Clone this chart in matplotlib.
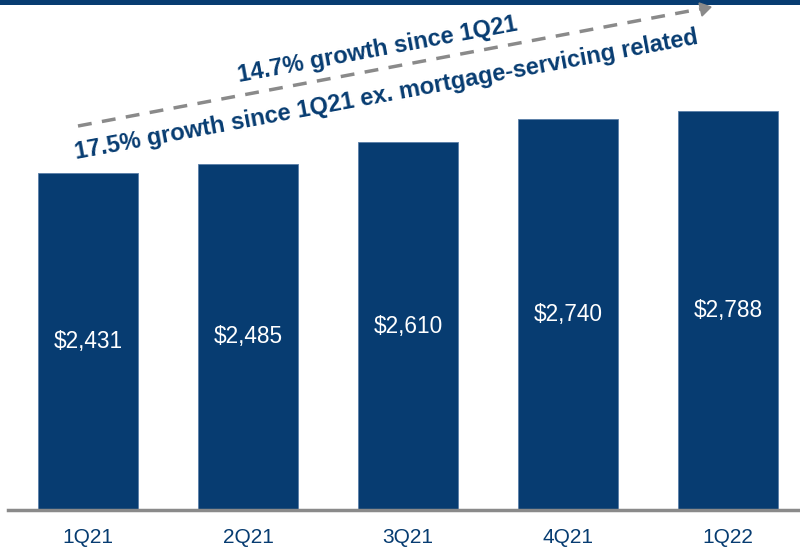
import matplotlib.pyplot as plt
from matplotlib.lines import Line2D

quarters = ['1Q21', '2Q21', '3Q21', '4Q21', '1Q22']
values = [2431, 2485, 2610, 2740, 2788]
value_labels = ['$2,431', '$2,485', '$2,610', '$2,740', '$2,788']

navy = '#073c71'
gray = '#8a8a8a'
W, H = 800, 547
y_floor = 491

plt.rcParams['font.family'] = ['Liberation Sans', 'DejaVu Sans']

fig = plt.figure(figsize=(8, 5.47), dpi=100)
ax = fig.add_axes([0, 37 / H, 1, 510 / H])

x = range(len(quarters))
ax.bar(x, values, width=0.625, color=navy, edgecolor='#5a7fa8', linewidth=0.6)
for i, (v, lab) in enumerate(zip(values, value_labels)):
    ax.text(i, y_floor + (v - y_floor) / 2, lab, ha='center', va='center',
            color='white', fontsize=16.3)

ax.set_xlim(-0.55, 4.45)
ax.set_ylim(y_floor, 3428)
for s in ax.spines.values():
    s.set_visible(False)
ax.set_yticks([])
ax.set_xticks(list(x))
ax.set_xticklabels(quarters, color=navy, fontsize=15)
ax.tick_params(axis='x', length=0, pad=13)
ax.axhline(y_floor, xmin=8 / W, xmax=1, color=gray, lw=2.5, clip_on=False)

def fx(px):
    return px / W

def fy(py):
    return 1 - py / H

# band across the top
fig.add_artist(plt.Rectangle((0, fy(4.5)), 1, 4.5 / H, transform=fig.transFigure,
                             color=navy, lw=0))

# dashed growth arrow
fig.add_artist(Line2D([fx(78), fx(700)], [fy(126), fy(9)], transform=fig.transFigure,
                      color=gray, lw=2.5, dashes=(4, 3)))
fig.patches.append(plt.Polygon([[fx(711), fy(7)], [fx(699), fy(3)], [fx(702), fy(16)]],
                               closed=True, color=gray, transform=fig.transFigure))

fig.text(fx(378), fy(50), '14.7% growth since 1Q21', color=navy, fontsize=17,
         fontweight='bold', rotation=10.5,
         ha='center', va='center', rotation_mode='anchor')
fig.text(fx(386), fy(95), '17.5% growth since 1Q21 ex. mortgage-servicing related',
         color=navy, fontsize=17, fontweight='bold',
         rotation=10.5, ha='center', va='center', rotation_mode='anchor')

fig.savefig('out.png', dpi=100)
